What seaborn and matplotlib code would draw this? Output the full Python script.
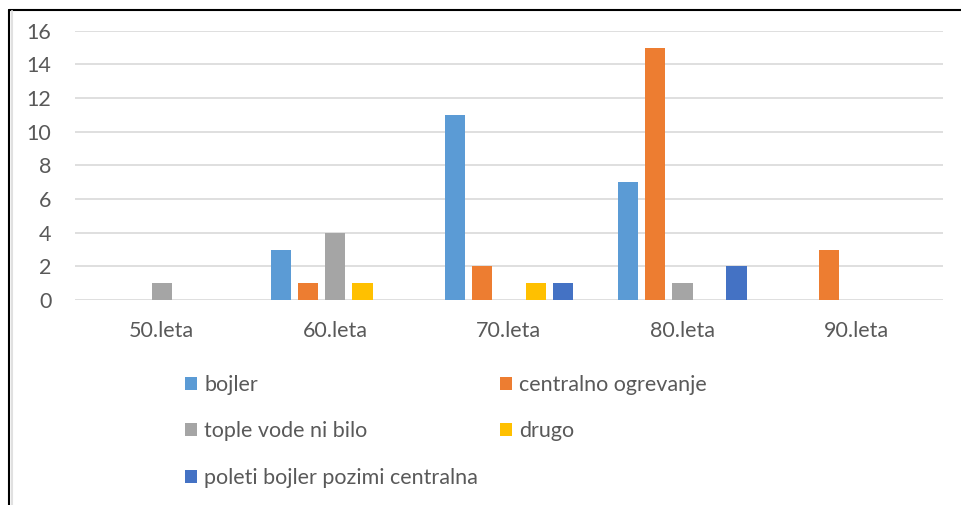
import numpy as np
import pandas as pd
import seaborn as sns
import matplotlib.pyplot as plt
from matplotlib.lines import Line2D

# podatki, prebrani s slike
decades = ["50.leta", "60.leta", "70.leta", "80.leta", "90.leta"]
series = ["bojler", "centralno ogrevanje", "tople vode ni bilo", "drugo",
          "poleti bojler pozimi centralna"]
bojler = [0, 3, 11, 7, 0]
centralno = [0, 1, 2, 15, 3]
tople_vode = [1, 4, 0, 1, 0]
drugo = [0, 1, 1, 0, 0]
poleti_pozimi = [0, 0, 1, 2, 0]
colors = ["#5B9BD5", "#ED7D31", "#A5A5A5", "#FFC000", "#4472C4"]

df = pd.DataFrame({
    "leta": decades * 5,
    "vrsta": np.repeat(series, len(decades)),
    "n": bojler + centralno + tople_vode + drugo + poleti_pozimi,
})

sns.set_style("white")
plt.rcParams["font.family"] = ["Lato", "DejaVu Sans"]

fig = plt.figure(figsize=(9.61, 5.05), dpi=100)
ax = fig.add_axes([0.078, 0.406, 0.903, 0.533])

sns.barplot(data=df, x="leta", y="n", hue="vrsta", order=decades,
            hue_order=series, palette=colors, saturation=1, width=0.78,
            gap=0.25, linewidth=0, legend=True, ax=ax, zorder=3)

ax.set_ylim(0, 16)
ax.set_yticks(range(0, 17, 2))
ax.set_xlim(-0.5, 4.5)
ax.grid(axis="y", color="#D9D9D9", linewidth=1.2, zorder=0)
ax.set_axisbelow(True)
for s in ax.spines.values():
    s.set_visible(False)
ax.set_xlabel("")
ax.set_ylabel("")
ax.tick_params(axis="both", length=0, labelsize=15.5, colors="#595959")
ax.tick_params(axis="x", pad=15.5)
ax.tick_params(axis="y", pad=17)

# legenda v dveh stolpcih, vrstni red po vrsticah kot v Excelu
handles, labels = ax.get_legend_handles_labels()
ax.get_legend().remove()
idx = [0, 2, 4, 1, 3]
fig.legend([handles[i] for i in idx], [labels[i] for i in idx],
           ncol=2, loc="upper left", bbox_to_anchor=(0.1925, 0.257),
           frameon=False, fontsize=15.5, handlelength=0.55, handleheight=0.55,
           handletextpad=0.35, labelspacing=1.22, columnspacing=1.0,
           labelcolor="#595959", borderaxespad=0, borderpad=0)

# okvir slike (zgoraj in levo)
fig.add_artist(Line2D([0.0098, 1.0], [0.980, 0.980], color="black", lw=1.5,
                      transform=fig.transFigure))
fig.add_artist(Line2D([0.0098, 0.0098], [0.0, 0.980], color="black", lw=1.5,
                      transform=fig.transFigure))
fig.add_artist(Line2D([0.0125, 0.0125], [0.0, 0.978], color="#E0E0E0", lw=1.5,
                      transform=fig.transFigure))

fig.savefig("out.png", dpi=100)
